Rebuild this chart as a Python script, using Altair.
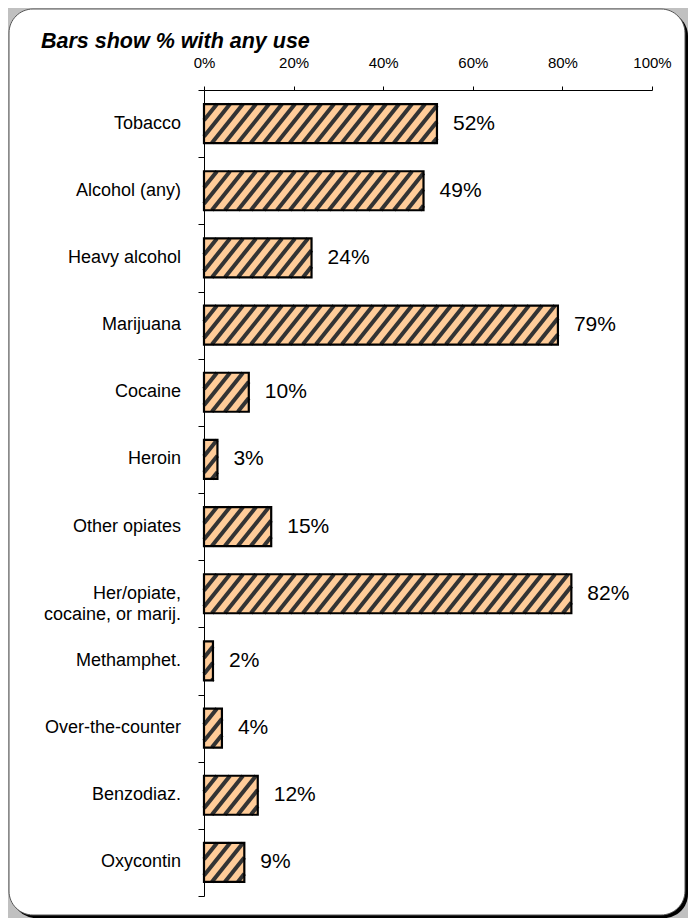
import altair as alt
import pandas as pd

# ---- data ----
categories = ["Tobacco", "Alcohol  (any)", "Heavy alcohol", "Marijuana ", "Cocaine", "Heroin",
              "Other opiates", "Her/opiate,\ncocaine, or marij.", "Methamphet.",
              "Over-the-counter", "Benzodiaz.", "Oxycontin"]
values = [52, 49, 24, 79, 10, 3, 15, 82, 2, 4, 12, 9]
x_ticks = [0, 20, 40, 60, 80, 100]
title_text = "Bars show % with any use"

FONT = "Liberation Sans"
PLOT_W, PLOT_H = 448, 806
BAR_LO, BAR_HI = 0.21, 0.79          # bar extent inside each row (row units)

rows = pd.DataFrame({
    "cat": categories,
    "val": values,
    "idx": list(range(len(categories))),
})
rows["y0"] = rows["idx"] + BAR_LO
rows["y1"] = rows["idx"] + BAR_HI
rows["ymid"] = rows["idx"] + 0.5
rows["lab"] = rows["val"].astype(str) + "%"

# ---- hatch pattern (diagonal stripes) derived from each bar's value ----
px_per_x = PLOT_W / 100.0
px_per_row = PLOT_H / len(categories)
bar_h_px = (BAR_HI - BAR_LO) * px_per_row
RUN = 0.8 * bar_h_px / px_per_x      # horizontal run of one stripe across bar, in % units
PERIOD = 13.0 / px_per_x             # stripe spacing, in % units
stripes = []
for _, r in rows.iterrows():
    v = r["val"]
    k = 0
    while True:
        s = -RUN + k * PERIOD
        if s >= v:
            break
        t0 = max(0.0, -s / RUN)
        t1 = min(1.0, (v - s) / RUN)
        if t1 > t0:
            stripes.append({
                "xa": s + RUN * t0, "xb": s + RUN * t1,
                "ya": r["y1"] - (BAR_HI - BAR_LO) * t0,
                "yb": r["y1"] - (BAR_HI - BAR_LO) * t1,
            })
        k += 1
stripes = pd.DataFrame(stripes)

x_scale = alt.Scale(domain=[0, 100], nice=False, zero=True)
y_scale = alt.Scale(domain=[0, len(categories)], reverse=True, nice=False, zero=False)
x_axis = alt.Axis(orient="top", values=x_ticks, labelExpr="datum.value + '%'", title=None,
                  grid=False, domainColor="black", domainWidth=1, tickColor="black",
                  tickSize=4, labelFont=FONT, labelFontSize=15, labelColor="black",
                  labelPadding=16, labelFlush=False, labelOverlap=False, zindex=2)
y_axis = alt.Axis(values=list(range(len(categories) + 1)), labels=False, title=None,
                  grid=False, domainColor="black", domainWidth=1, tickColor="black",
                  tickSize=6, zindex=2)

one = pd.DataFrame({"a": [0]})

shadow = alt.Chart(one).mark_rect(color="black", cornerRadius=24).encode(
    x=alt.value(-192), x2=alt.value(484), y=alt.value(-78), y2=alt.value(828))
panel = alt.Chart(one).mark_rect(fill="white", stroke="#555555", strokeWidth=1,
                                 cornerRadius=24).encode(
    x=alt.value(-195), x2=alt.value(481), y=alt.value(-81), y2=alt.value(825))

base = alt.Chart(rows)
bars = base.mark_rect(fill="#FFCC99").encode(
    x=alt.X("zero:Q", scale=x_scale, axis=x_axis),
    x2="val:Q",
    y=alt.Y("y0:Q", scale=y_scale, axis=y_axis),
    y2="y1:Q",
).transform_calculate(zero="0")

hatch = alt.Chart(stripes).mark_rule(color="#333333", strokeWidth=4, strokeCap="butt").encode(
    x=alt.X("xa:Q", scale=x_scale, axis=x_axis),
    x2="xb:Q",
    y=alt.Y("ya:Q", scale=y_scale, axis=y_axis),
    y2="yb:Q",
)

outline = base.mark_rect(fill=None, stroke="black", strokeWidth=2.2).encode(
    x=alt.X("zero:Q", scale=x_scale, axis=x_axis),
    x2="val:Q",
    y=alt.Y("y0:Q", scale=y_scale, axis=y_axis),
    y2="y1:Q",
).transform_calculate(zero="0")

val_text = base.mark_text(align="left", baseline="middle", dx=16, font=FONT,
                          fontSize=21, color="black").encode(
    x=alt.X("val:Q", scale=x_scale, axis=x_axis),
    y=alt.Y("ymid:Q", scale=y_scale, axis=y_axis),
    text="lab:N",
)

cat_text = base.mark_text(align="right", baseline="middle", dx=-23, font=FONT,
                          fontSize=18, color="black", lineBreak="\n", lineHeight=21).encode(
    x=alt.value(0),
    y=alt.Y("ymid:Q", scale=y_scale, axis=y_axis),
    text="cat:N",
)

title = alt.Chart(one).mark_text(align="left", baseline="alphabetic", font=FONT,
                                 fontSize=21.5, fontStyle="italic", fontWeight="bold",
                                 color="black").encode(
    x=alt.value(-163), y=alt.value(-42), text=alt.value(title_text))

chart = alt.layer(shadow, panel, bars, hatch, outline, val_text, cat_text, title).properties(
    width=PLOT_W, height=PLOT_H, padding=0, background="#c0c0c0",
).configure_view(stroke=None)

chart.save("out.html", embed_options={"renderer": "svg", "actions": False})
